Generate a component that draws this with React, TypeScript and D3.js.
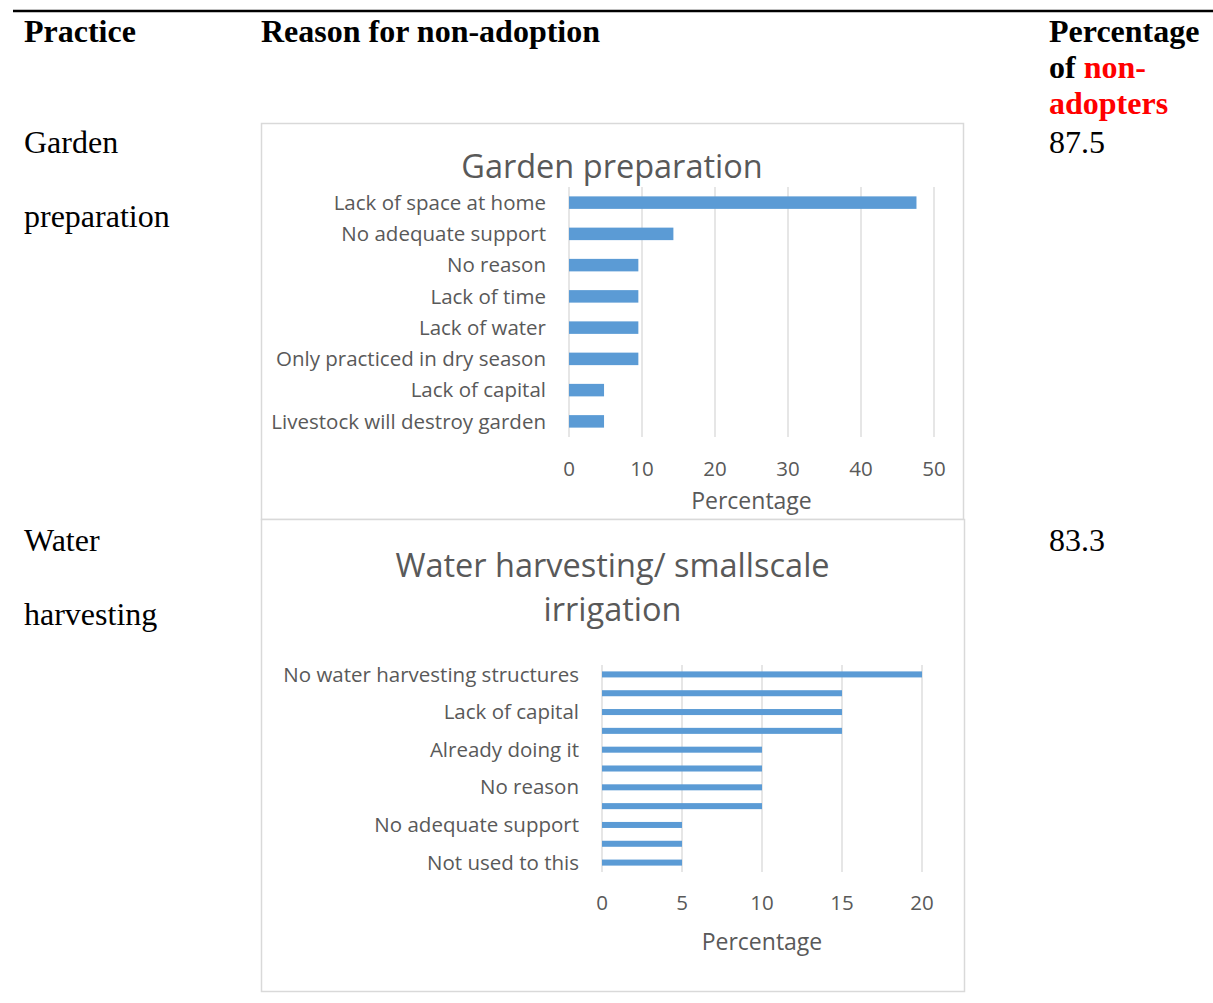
import React from "react";
import * as d3 from "d3";

const gardenReasons = [
  "Lack of space at home",
  "No adequate support",
  "No reason",
  "Lack of time",
  "Lack of water",
  "Only practiced in dry season",
  "Lack of capital",
  "Livestock will destroy garden",
];
const gardenValues = [47.6, 14.3, 9.5, 9.5, 9.5, 9.5, 4.8, 4.8];
const gardenTicks = [0, 10, 20, 30, 40, 50];

const waterReasons = [
  "No water harvesting structures",
  "Lack of land",
  "Lack of capital",
  "Lack of knowledge",
  "Already doing it",
  "Lack of labour",
  "No reason",
  "Lack of water",
  "No adequate support",
  "Lack of time",
  "Not used to this",
];
const waterValues = [20, 15, 15, 15, 10, 10, 10, 10, 5, 5, 5];
const waterTicks = [0, 5, 10, 15, 20];
// every other category label is shown, as in the original
const waterLabelShown = [true, false, true, false, true, false, true, false, true, false, true];

const practices = [
  { lines: ["Garden", "preparation"], pct: "87.5" },
  { lines: ["Water", "harvesting"], pct: "83.3" },
];

const BAR = "#5b9bd5";
const GRID = "#d9d9d9";
const TXT = "#595959";
const CHART_FONT = "'Open Sans', 'Noto Sans', sans-serif";
const SERIF = "'Liberation Serif', 'Times New Roman', serif";

type ChartProps = {
  box: [number, number, number, number];
  titleLines: string[];
  titleY: number[];
  titleSize: number;
  cats: string[];
  vals: number[];
  ticks: number[];
  shown: boolean[];
  xRange: [number, number];
  yRange: [number, number];
  pad: number;
  tickY: number;
  axisTitleY: number;
};

function BarChart(p: ChartProps) {
  const [bx, by, bw, bh] = p.box;
  const x = d3
    .scaleLinear()
    .domain([p.ticks[0], p.ticks[p.ticks.length - 1]])
    .range(p.xRange);
  const y = d3.scaleBand<string>().domain(p.cats).range(p.yRange).paddingInner(p.pad).paddingOuter(p.pad / 2);
  const cx = (bx + bx + bw) / 2;
  return (
    <g>
      <rect x={bx + 0.5} y={by + 0.5} width={bw} height={bh} fill="#fff" stroke={GRID} strokeWidth={1.5} />
      {p.titleLines.map((t, i) => (
        <text
          key={t}
          x={cx}
          y={p.titleY[i]}
          textAnchor="middle"
          fontFamily={CHART_FONT}
          fontSize={p.titleSize}
          fill={TXT}
        >
          {t}
        </text>
      ))}
      {p.ticks.map((t) => (
        <line
          key={"g" + t}
          x1={x(t)}
          x2={x(t)}
          y1={p.yRange[0]}
          y2={p.yRange[1]}
          stroke={GRID}
          strokeWidth={1.3}
        />
      ))}
      {p.cats.map((c, i) => (
        <rect
          key={"b" + c}
          x={x(0)}
          y={y(c)}
          width={x(p.vals[i]) - x(0)}
          height={y.bandwidth()}
          fill={BAR}
        />
      ))}
      {p.cats.map((c, i) =>
        p.shown[i] ? (
          <text
            key={"l" + c}
            x={p.xRange[0] - 23}
            y={(y(c) as number) + y.bandwidth() / 2}
            dy="0.35em"
            textAnchor="end"
            fontFamily={CHART_FONT}
            fontSize={20.5}
            fill={TXT}
          >
            {c}
          </text>
        ) : null
      )}
      {p.ticks.map((t) => (
        <text
          key={"t" + t}
          x={x(t)}
          y={p.tickY}
          dy="0.35em"
          textAnchor="middle"
          fontFamily={CHART_FONT}
          fontSize={20.5}
          fill={TXT}
        >
          {t}
        </text>
      ))}
      <text
        x={(p.xRange[0] + p.xRange[1]) / 2}
        y={p.axisTitleY}
        dy="0.35em"
        textAnchor="middle"
        fontFamily={CHART_FONT}
        fontSize={23}
        fill={TXT}
      >
        Percentage
      </text>
    </g>
  );
}

export default function App() {
  const rowY = [142, 540];
  return (
    <svg
      width={1213}
      height={1003}
      style={{ position: "absolute", left: 0, top: 0, background: "#fff" }}
    >
      <rect width={1213} height={1003} fill="#fff" />
      <line x1={13} x2={1213} y1={11} y2={11} stroke="#000" strokeWidth={2.5} />
      <g fontFamily={SERIF} fontSize={32} fontWeight="bold" fill="#000">
        <text x={24} y={42}>Practice</text>
        <text x={261} y={42}>Reason for non-adoption</text>
        <text x={1049} y={42}>Percentage</text>
        <text x={1049} y={78}>
          of <tspan fill="#ff0000">non-</tspan>
        </text>
        <text x={1049} y={114} fill="#ff0000">adopters</text>
      </g>
      <g fontFamily={SERIF} fontSize={32} fill="#000">
        {practices.map((pr, i) => (
          <g key={pr.pct}>
            {pr.lines.map((l, j) => (
              <text key={l} x={24} y={rowY[i] + 11 + j * 74}>
                {l}
              </text>
            ))}
            <text x={1049} y={rowY[i] + 11}>
              {pr.pct}
            </text>
          </g>
        ))}
      </g>
      <BarChart
        box={[261, 123, 702, 396]}
        titleLines={["Garden preparation"]}
        titleY={[178]}
        titleSize={32.5}
        cats={gardenReasons}
        vals={gardenValues}
        ticks={gardenTicks}
        shown={gardenReasons.map(() => true)}
        xRange={[569, 934]}
        yRange={[187, 437]}
        pad={0.6}
        tickY={469}
        axisTitleY={501}
      />
      <BarChart
        box={[261, 519, 703, 472]}
        titleLines={["Water harvesting/ smallscale", "irrigation"]}
        titleY={[577, 621]}
        titleSize={32.5}
        cats={waterReasons}
        vals={waterValues}
        ticks={waterTicks}
        shown={waterLabelShown}
        xRange={[602, 922]}
        yRange={[665, 872]}
        pad={0.68}
        tickY={903}
        axisTitleY={942}
      />
    </svg>
  );
}
